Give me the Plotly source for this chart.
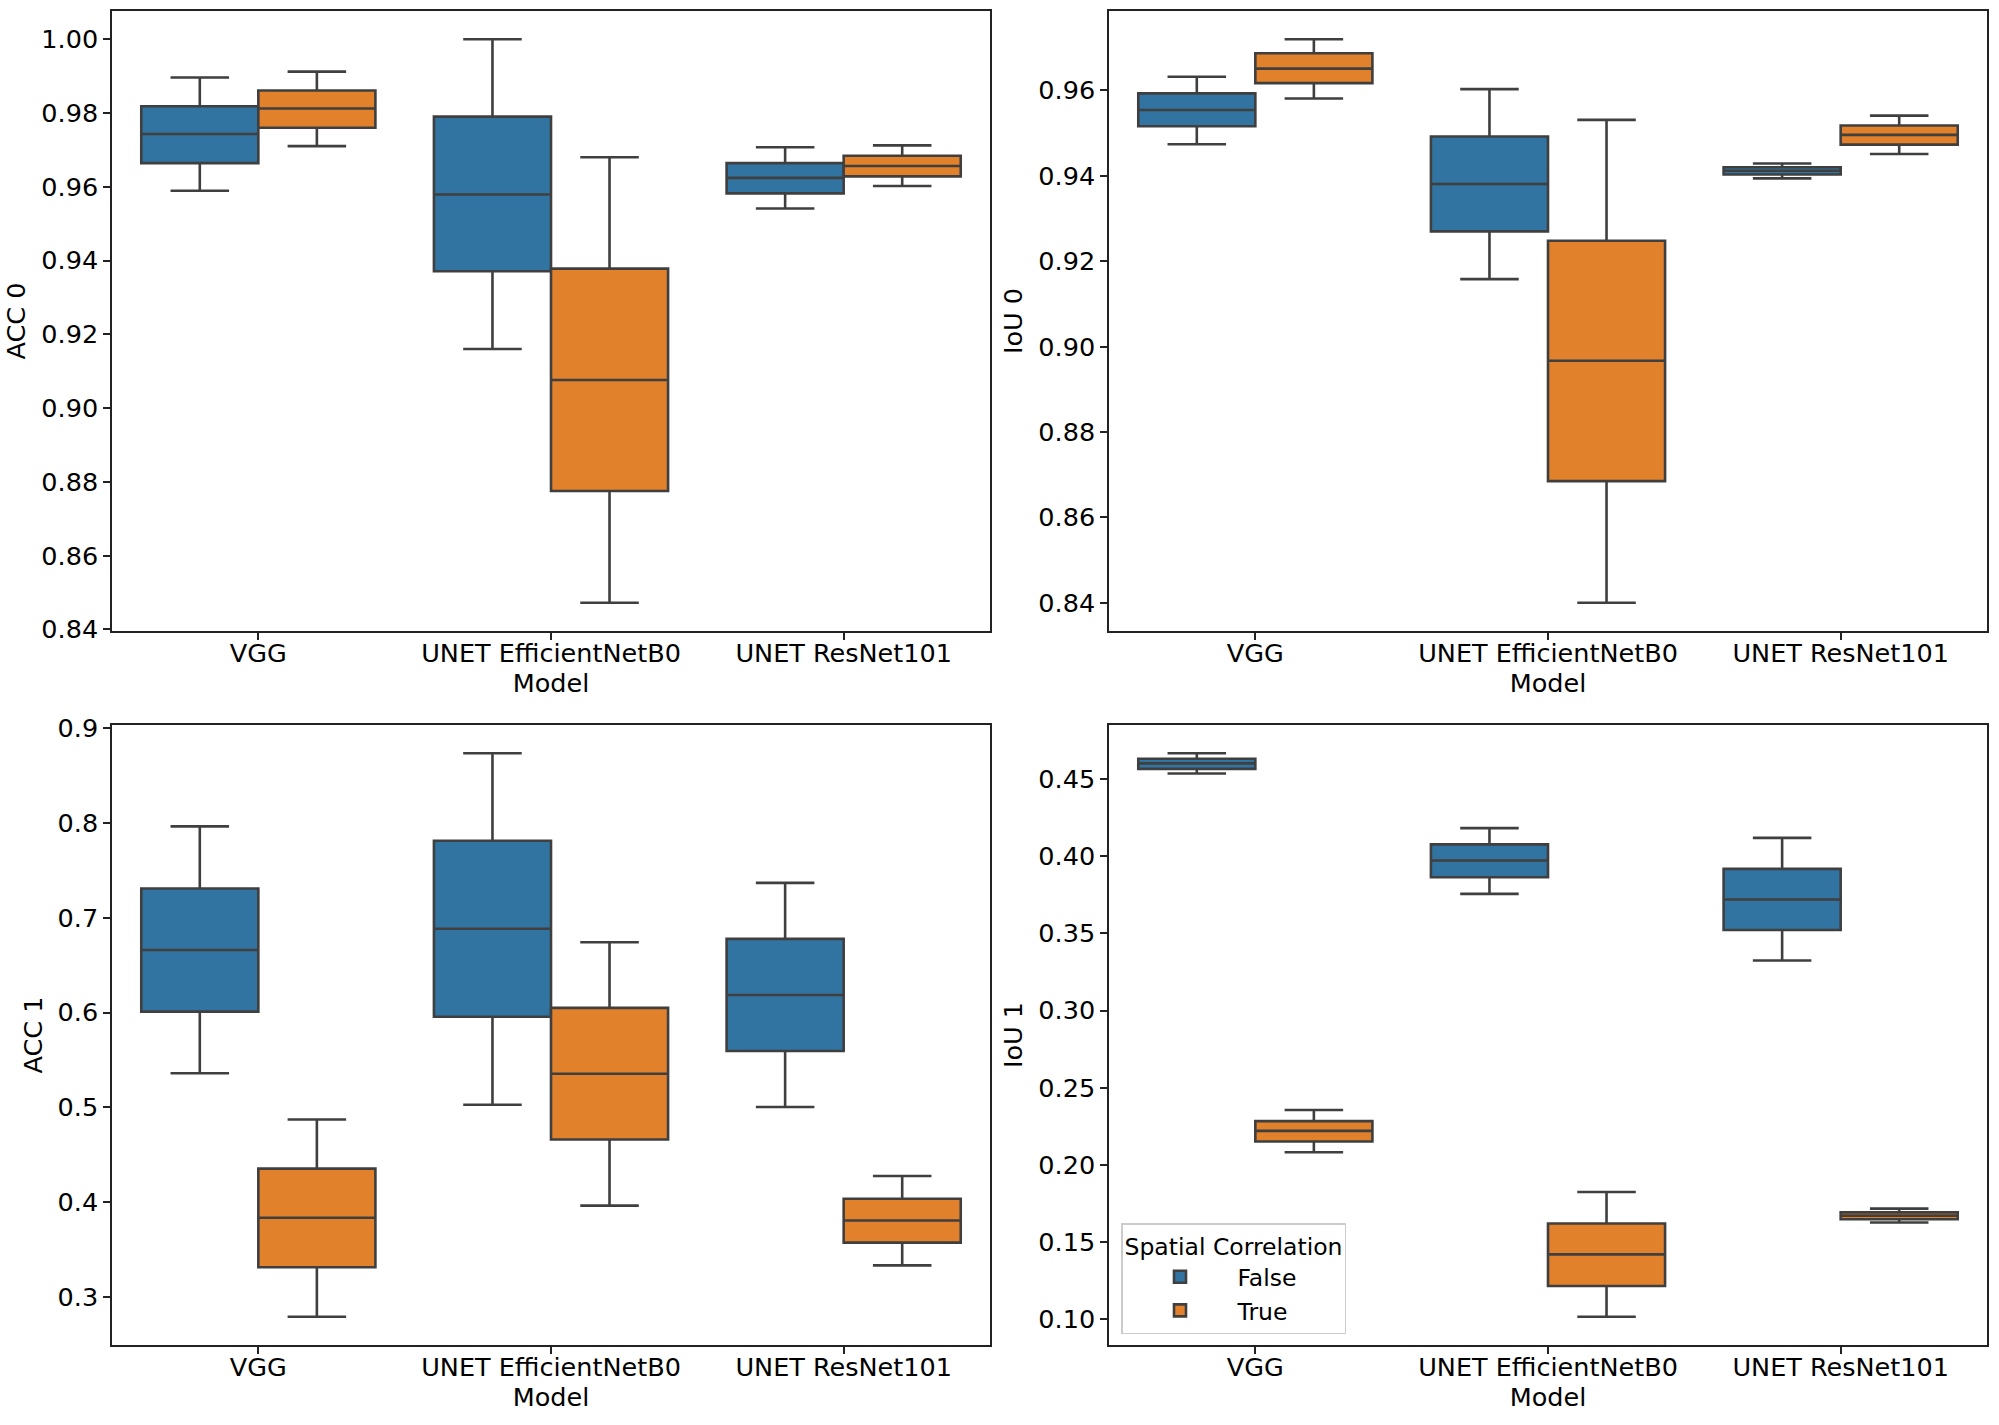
import plotly.graph_objects as go

models = ["VGG", "UNET EfficientNetB0", "UNET ResNet101"]
hues = ["False", "True"]
metrics = ["ACC 0", "IoU 0", "ACC 1", "IoU 1"]

# per metric, per hue: lists over models (lowerfence, q1, median, q3, upperfence)
acc0_false_lo = [0.9589, 0.9160, 0.9541]
acc0_false_q1 = [0.9664, 0.9371, 0.9582]
acc0_false_md = [0.9743, 0.9579, 0.9624]
acc0_false_q3 = [0.9818, 0.9790, 0.9664]
acc0_false_hi = [0.9896, 1.0000, 0.9707]
acc0_true_lo = [0.9710, 0.8472, 0.9602]
acc0_true_q1 = [0.9760, 0.8775, 0.9628]
acc0_true_md = [0.9812, 0.9076, 0.9656]
acc0_true_q3 = [0.9861, 0.9378, 0.9684]
acc0_true_hi = [0.9912, 0.9680, 0.9712]

iou0_false_lo = [0.9474, 0.9158, 0.9394]
iou0_false_q1 = [0.9516, 0.9270, 0.9403]
iou0_false_md = [0.9554, 0.9381, 0.9412]
iou0_false_q3 = [0.9593, 0.9492, 0.9420]
iou0_false_hi = [0.9632, 0.9603, 0.9429]
iou0_true_lo = [0.9581, 0.8400, 0.9451]
iou0_true_q1 = [0.9617, 0.8685, 0.9473]
iou0_true_md = [0.9651, 0.8967, 0.9496]
iou0_true_q3 = [0.9687, 0.9248, 0.9518]
iou0_true_hi = [0.9720, 0.9531, 0.9541]

acc1_false_lo = [0.5361, 0.5029, 0.5005]
acc1_false_q1 = [0.6010, 0.5956, 0.5595]
acc1_false_md = [0.6659, 0.6883, 0.6185]
acc1_false_q3 = [0.7307, 0.7810, 0.6776]
acc1_false_hi = [0.7961, 0.8732, 0.7366]
acc1_true_lo = [0.2795, 0.3966, 0.3337]
acc1_true_q1 = [0.3317, 0.4663, 0.3576]
acc1_true_md = [0.3839, 0.5356, 0.3810]
acc1_true_q3 = [0.4356, 0.6049, 0.4039]
acc1_true_hi = [0.4873, 0.6741, 0.4278]

iou1_false_lo = [0.4536, 0.3756, 0.3324]
iou1_false_q1 = [0.4566, 0.3864, 0.3522]
iou1_false_md = [0.4602, 0.3972, 0.3720]
iou1_false_q3 = [0.4632, 0.4077, 0.3918]
iou1_false_hi = [0.4668, 0.4182, 0.4119]
iou1_true_lo = [0.2082, 0.1015, 0.1626]
iou1_true_q1 = [0.2151, 0.1215, 0.1647]
iou1_true_md = [0.2220, 0.1420, 0.1671]
iou1_true_q3 = [0.2283, 0.1620, 0.1692]
iou1_true_hi = [0.2355, 0.1824, 0.1716]

data = {
    "ACC 0": {"False": (acc0_false_lo, acc0_false_q1, acc0_false_md, acc0_false_q3, acc0_false_hi),
              "True": (acc0_true_lo, acc0_true_q1, acc0_true_md, acc0_true_q3, acc0_true_hi)},
    "IoU 0": {"False": (iou0_false_lo, iou0_false_q1, iou0_false_md, iou0_false_q3, iou0_false_hi),
              "True": (iou0_true_lo, iou0_true_q1, iou0_true_md, iou0_true_q3, iou0_true_hi)},
    "ACC 1": {"False": (acc1_false_lo, acc1_false_q1, acc1_false_md, acc1_false_q3, acc1_false_hi),
              "True": (acc1_true_lo, acc1_true_q1, acc1_true_md, acc1_true_q3, acc1_true_hi)},
    "IoU 1": {"False": (iou1_false_lo, iou1_false_q1, iou1_false_md, iou1_false_q3, iou1_false_hi),
              "True": (iou1_true_lo, iou1_true_q1, iou1_true_md, iou1_true_q3, iou1_true_hi)},
}

colors = {"False": "#3274a1", "True": "#e1812c"}
edge = "#3f3f3f"
FONT = "DejaVu Sans"
FS = 25.5

W, H = 1999, 1425
col_x = [(112 / W, 990 / W), (1109 / W, 1987 / W)]
row_y = [(1 - 631 / H, 1 - 11 / H), (1 - 1345 / H, 1 - 725 / H)]

yfmt = {"ACC 0": (0.02, ".2f"), "IoU 0": (0.02, ".2f"), "ACC 1": (0.1, ".1f"), "IoU 1": (0.05, ".2f")}

fig = go.Figure()
layout = dict(
    width=W, height=H,
    margin=dict(l=0, r=0, t=0, b=0, autoexpand=False),
    paper_bgcolor="white", plot_bgcolor="white",
    font=dict(family=FONT, size=FS, color="black"),
    boxmode="group", boxgap=0.2, boxgroupgap=0,
)

for i, m in enumerate(metrics):
    r, c = divmod(i, 2)
    ax = "" if i == 0 else str(i + 1)
    for h in hues:
        lo, q1, md, q3, hi = data[m][h]
        fig.add_trace(go.Box(
            x=models, lowerfence=lo, q1=q1, median=md, q3=q3, upperfence=hi,
            name=h, legendgroup=h, showlegend=(i == 3), offsetgroup=h,
            fillcolor=colors[h], line=dict(color=edge, width=2.6),
            whiskerwidth=0.5, boxpoints=False, hoverinfo="skip",
            xaxis="x" + ax, yaxis="y" + ax,
        ))
    lows = [v for h in hues for v in data[m][h][0]]
    highs = [v for h in hues for v in data[m][h][4]]
    mn, mx = min(lows), max(highs)
    pad = (mx - mn) * 0.05
    dt, fmt = yfmt[m]
    layout["xaxis" + ax] = dict(
        domain=col_x[c], anchor="y" + ax, type="category", range=[-0.5, 2.5],
        automargin=False,
        showline=True, mirror=True, linecolor="#222222", linewidth=1.5,
        ticks="outside", ticklen=7, tickwidth=1.5, tickcolor="#222222",
        ticklabelstandoff=-8,
        showgrid=False, zeroline=False,
        title=dict(text="Model", standoff=1, font=dict(size=FS)),
        tickfont=dict(size=FS),
    )
    layout["yaxis" + ax] = dict(
        domain=row_y[r], anchor="x" + ax, range=[mn - pad, mx + pad],
        automargin=False,
        dtick=dt, tickformat=fmt,
        showline=True, mirror=True, linecolor="#222222", linewidth=1.5,
        ticks="outside", ticklen=7, tickwidth=1.5, tickcolor="#222222",
        showgrid=False, zeroline=False,
        title=dict(text=m, standoff=8, font=dict(size=FS)),
        tickfont=dict(size=FS),
    )

layout["legend"] = dict(
    x=1121 / W, y=1 - 1334 / H, xanchor="left", yanchor="bottom",
    bgcolor="rgba(255,255,255,0.8)", bordercolor="#cccccc", borderwidth=1.5,
    title=dict(text="Spatial Correlation", font=dict(size=23.5)),
    font=dict(size=23.5), traceorder="normal", itemwidth=105, tracegroupgap=4,
)
fig.update_layout(**layout)
fig.write_html("out.html")
